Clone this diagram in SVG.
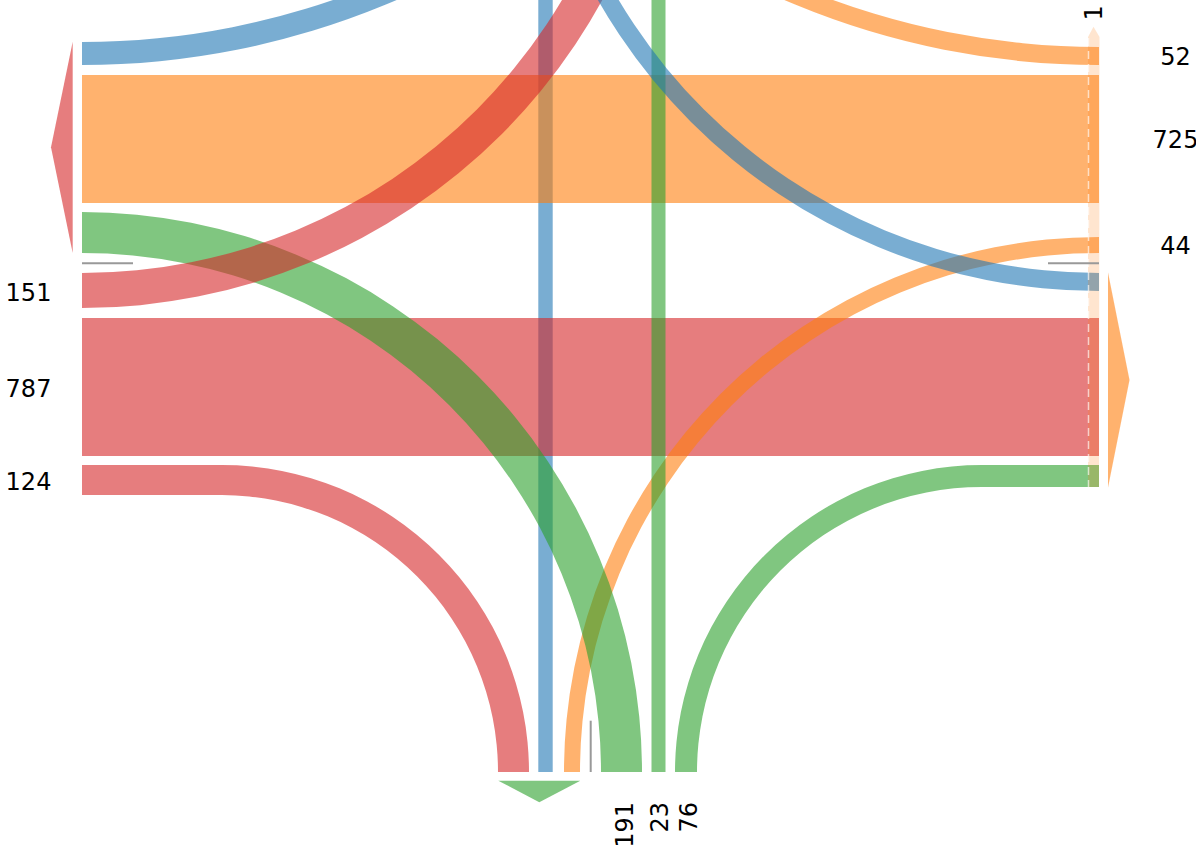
<svg xmlns="http://www.w3.org/2000/svg" width="1196" height="852" viewBox="0 0 1196 852">
<style>
.b{fill:#1f77b4;fill-opacity:.6}
.o{fill:#ff7f0e;fill-opacity:.6}
.r{fill:#d62728;fill-opacity:.6}
.g{fill:#2ca02c;fill-opacity:.6}
.gl{stroke:#999;stroke-width:2;fill:none}
.lbl{font-family:"DejaVu Sans",sans-serif;font-size:24px;fill:#000}
</style>
<rect width="1196" height="852" fill="#fff"/>
<g id="flows">
<path id="blue-top-left" class="b" d="M82,42 A771,771 0 0 0 853,-729 L876,-729 A794,794 0 0 1 82,65 Z"/>
<rect id="blue-bar" class="b" x="538.3" y="-5" width="14.4" height="777"/>
<path id="orange-top-right" class="o" d="M1099,47 A776,776 0 0 1 323,-729 L305,-729 A794,794 0 0 0 1099,65 Z"/>
<rect id="orange-band" class="o" x="82" y="75" width="1017" height="128"/>
<rect id="red-band" class="r" x="82" y="318" width="1017" height="138"/>
<path id="orange-arc" class="o" d="M1099,237 A535,535 0 0 0 564,772 L580,772 A519,519 0 0 1 1099,253 Z"/>
<path id="green-arc" class="g" d="M82,212 A560,560 0 0 1 642,772 L601,772 A519,519 0 0 0 82,253 Z"/>
<path id="red-arc-top" class="r" d="M82,273 A558.5,558.5 0 0 0 640.5,-285.5 L675.5,-285.5 A593.5,593.5 0 0 1 82,308 Z"/>
<path id="red-arc-bottom" class="r" d="M82,465 L222,465 A307,307 0 0 1 529,772 L498,772 A277,277 0 0 0 222,495 L82,495 Z"/>
<path id="green-arc-right" class="g" d="M1099,465 L982,465 A307,307 0 0 0 675,772 L697,772 A285,285 0 0 1 982,487 L1099,487 Z"/>
<rect id="green-bar" class="g" x="651.5" y="-5" width="14" height="777"/>
<path id="blue-arc-right" class="b" d="M1099,273 A559,559 0 0 1 540,-286 L522,-286 A577,577 0 0 0 1099,291 Z"/>
</g>
<g id="arrows">
<polygon id="red-arrow" class="r" points="72.7,41.7 51,147.3 72.7,253"/>
<polygon id="orange-arrow" class="o" points="1108,272.5 1129.5,380 1108,487.5"/>
<polygon id="green-arrow" class="g" points="498.3,780.7 580.3,780.7 539.3,802.3"/>
<g id="faint-arrow">
<path d="M1088,487 L1088,37 L1093.5,26.7 L1099.5,37 L1099,487 Z" fill="#ff7f0e" fill-opacity="0.2"/>
<line x1="1088.5" y1="38" x2="1088.5" y2="487" stroke="#fff" stroke-opacity="0.65" stroke-width="1.5" stroke-dasharray="8,5"/>
</g>
</g>
<g id="ticks">
<line class="gl" x1="82" y1="263.3" x2="133" y2="263.3"/>
<line class="gl" x1="1048" y1="263.3" x2="1099" y2="263.3"/>
<line class="gl" x1="590.7" y1="720.7" x2="590.7" y2="772"/>
</g>
<g id="labels" class="lbl">
<text x="28.5" y="300.5" text-anchor="middle">151</text>
<text x="28.5" y="396.5" text-anchor="middle">787</text>
<text x="28.5" y="490" text-anchor="middle">124</text>
<text x="1175.5" y="65" text-anchor="middle">52</text>
<text x="1175.5" y="148" text-anchor="middle">725</text>
<text x="1175.5" y="254" text-anchor="middle">44</text>
<text transform="translate(1102,12.8) rotate(-90)" text-anchor="middle">1</text>
<text transform="translate(633,802) rotate(-90)" text-anchor="end">191</text>
<text transform="translate(668,802) rotate(-90)" text-anchor="end">23</text>
<text transform="translate(697,802) rotate(-90)" text-anchor="end">76</text>
</g>
</svg>
